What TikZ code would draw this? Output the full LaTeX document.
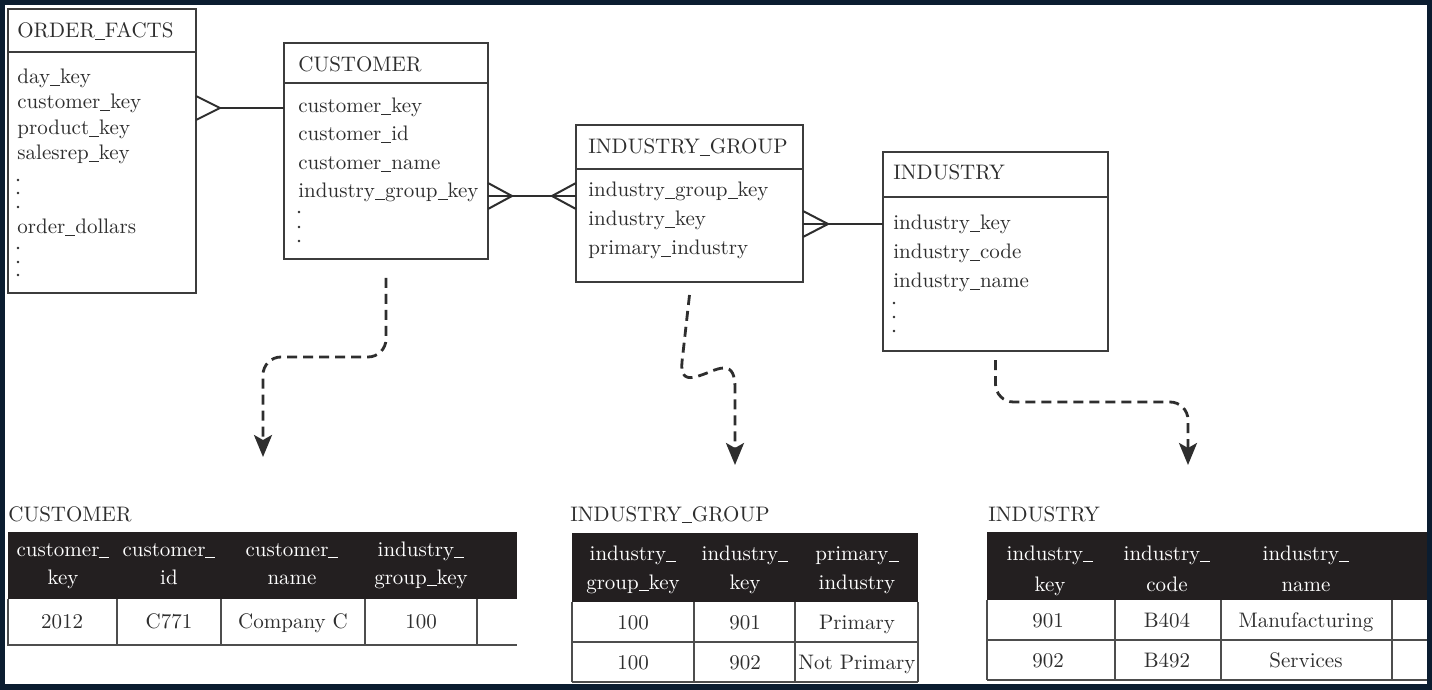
\documentclass[tikz,border=0pt]{standalone}
\usepackage{tikz}
\usetikzlibrary{arrows.meta}

\definecolor{frame}{HTML}{0B1D30}
\definecolor{ink}{HTML}{2E2E2E}
\definecolor{boxline}{HTML}{3C3C3C}
\definecolor{headfill}{HTML}{231F20}
\definecolor{gridgray}{HTML}{4D4D4D}

% a narrower underscore, closer to the original face
\newcommand{\us}{\rule[-1pt]{5pt}{0.5pt}}

\tikzset{
  entity/.style={draw=boxline, line width=1pt, anchor=north west, inner sep=0pt, outer sep=0pt},
  heading/.style={anchor=base west, inner sep=0pt, text=ink},
  field/.style={anchor=base west, inner sep=0pt, text=ink},
  colhead/.style={anchor=base, inner sep=0pt, text=white},
  cellval/.style={anchor=base, inner sep=0pt, text=ink},
  rel/.style={draw=ink, line width=1pt},
  gridline/.style={draw=gridgray, line width=1pt},
  lineage/.style={draw=ink, line width=1.4pt, dash pattern=on 5pt off 3pt,
    rounded corners=9pt, -{Stealth[length=11pt,width=9pt,inset=2.5pt]}}
}

\begin{document}
\begin{tikzpicture}[x=0.5pt, y=-0.5pt, font=\fontsize{10.5}{12.6}\selectfont]
    % frame
    \fill[frame] (0,0) rectangle (1432,690);
    \fill[white] (5,5) rectangle (1427,684);

    % entities
    \node[entity, minimum width=94pt, minimum height=142pt] (fact) at (8,9) {};
    \node[entity, minimum width=102pt, minimum height=108pt] (cust) at (284,43) {};
    \node[entity, minimum width=113.5pt, minimum height=78.5pt] (ig) at (576,125) {};
    \node[entity, minimum width=112.5pt, minimum height=99.5pt] (ind) at (883,152) {};

    \draw[boxline, line width=1pt] (fact.west |- 0,52) -- (fact.east |- 0,52);
    \draw[boxline, line width=1pt] (cust.west |- 0,83) -- (cust.east |- 0,83);
    \draw[boxline, line width=1pt] (ig.west |- 0,169) -- (ig.east |- 0,169);
    \draw[boxline, line width=1pt] (ind.west |- 0,197) -- (ind.east |- 0,197);

    \node[heading] (fact-title) at (17,38) {ORDER\us FACTS};
    \foreach \name/\y [count=\i] in {day\us key/84, customer\us key/109, product\us key/135,
        salesrep\us key/160, order\us dollars/234}
      \node[field] (fact-\i) at (17,\y) {\name};

    \node[heading] (cust-title) at (298,72) {CUSTOMER};
    \foreach \name/\y [count=\i] in {customer\us key/113, customer\us id/141, customer\us name/170,
        industry\us group\us key/198}
      \node[field] (cust-\i) at (298,\y) {\name};

    \node[heading] (ig-title) at (588,154) {INDUSTRY\us GROUP};
    \foreach \name/\y [count=\i] in {industry\us group\us key/197, industry\us key/226, primary\us industry/255}
      \node[field] (ig-\i) at (588,\y) {\name};

    \node[heading] (ind-title) at (893,180) {INDUSTRY};
    \foreach \name/\y [count=\i] in {industry\us key/230, industry\us code/259, industry\us name/288}
      \node[field] (ind-\i) at (893,\y) {\name};

    % elided attributes
    \foreach \x/\y in {18/180, 18/193, 18/207, 18/248, 18/262, 18/275,
        299/212, 299/227, 299/241, 894/303, 894/317, 894/331}
      \fill[ink] (\x,\y) circle (0.65pt);

    % relationships
    \draw[rel] (fact.east |- 0,96) -- (220,108) -- (fact.east |- 0,120);
    \draw[rel] (220,108) -- (cust.west |- 0,108);

    \draw[rel] (cust.east |- 0,183) -- (512,196) -- (cust.east |- 0,209);
    \draw[rel] (cust.east |- 0,196) -- (ig.west |- 0,196);
    \draw[rel] (ig.west |- 0,183) -- (552,196) -- (ig.west |- 0,209);

    \draw[rel] (ig.east |- 0,211) -- (828,224) -- (ig.east |- 0,237);
    \draw[rel] (ig.east |- 0,224) -- (ind.west |- 0,224);

    % dashed arrows to sample rows
    \coordinate (ctip) at (263,457);
    \coordinate (igtip) at (735,465);
    \coordinate (indtip) at (1188,465);
    \draw[lineage] ([yshift=-9.5pt]cust.south) -- ++(0,79) -| (ctip);
    \draw[lineage, sharp corners] ([yshift=-6.5pt]ig.south) -- (682,362)
        .. controls (681,372) and (683,380) .. (695,377)
        .. controls (707,374) and (716,368) .. (724,368)
        .. controls (732,368) and (735,375) .. (735,388) -- (igtip);
    \draw[lineage] ([yshift=-4.5pt]ind.south) -- ++(0,42) -| (indtip);

    % table: CUSTOMER
    \node[heading] (tc) at (8,521) {CUSTOMER};
    \fill[headfill] (8,532) rectangle (517,599);
    \foreach \x/\top/\bot [count=\i] in {63/customer\us/key, 169/customer\us/id,
        292/customer\us/name, 421/industry\us/group\us key} {
      \node[colhead] (tc-a\i) at (\x,556) {\top};
      \node[colhead] (tc-b\i) at (\x,584) {\bot};
    }
    \foreach \x/\v [count=\i] in {62/2012, 169/C771, 293/Company C, 421/100}
      \node[cellval] (tc-v\i) at (\x,628) {\v};
    \draw[gridline] (8,599) -- (8,645) -- (517,645);
    \foreach \x in {117,221,365,477}
      \draw[gridline] (\x,599) -- (\x,645);

    % table: INDUSTRY_GROUP
    \node[heading] (tg) at (570,521) {INDUSTRY\us GROUP};
    \fill[headfill] (572,533) rectangle (918,602);
    \foreach \x/\top/\bot [count=\i] in {633/industry\us/group\us key, 745/industry\us/key,
        857/primary\us/industry} {
      \node[colhead] (tg-a\i) at (\x,560) {\top};
      \node[colhead] (tg-b\i) at (\x,589) {\bot};
    }
    \foreach \x/\v/\w [count=\i] in {633/100/100, 745/901/902, 857/Primary/Not Primary} {
      \node[cellval] (tg-v\i) at (\x,629) {\v};
      \node[cellval] (tg-w\i) at (\x,669) {\w};
    }
    \foreach \y in {642,682}
      \draw[gridline] (572,\y) -- (918,\y);
    \foreach \x in {572,694,795,918}
      \draw[gridline] (\x,602) -- (\x,682);

    % table: INDUSTRY
    \node[heading] (ti) at (988,521) {INDUSTRY};
    \fill[headfill] (987,532) rectangle (1427,600);
    \foreach \x/\top/\bot [count=\i] in {1050/industry\us/key, 1167/industry\us/code,
        1306/industry\us/name} {
      \node[colhead] (ti-a\i) at (\x,560) {\top};
      \node[colhead] (ti-b\i) at (\x,591) {\bot};
    }
    \foreach \x/\v/\w [count=\i] in {1048/901/902, 1167/B404/B492, 1306/Manufacturing/Services} {
      \node[cellval] (ti-v\i) at (\x,627) {\v};
      \node[cellval] (ti-w\i) at (\x,667) {\w};
    }
    \foreach \y in {640,680}
      \draw[gridline] (987,\y) -- (1427,\y);
    \foreach \x in {987,1115,1221,1392}
      \draw[gridline] (\x,600) -- (\x,680);
\end{tikzpicture}
\end{document}
